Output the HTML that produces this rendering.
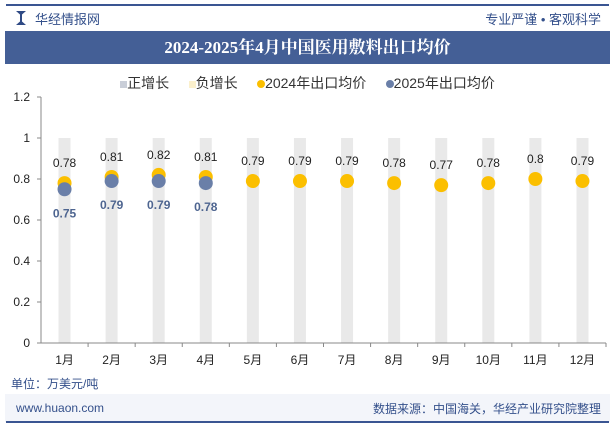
<!DOCTYPE html>
<html><head><meta charset="utf-8"><style>
body{margin:0;width:615px;height:427px;background:#fff;font-family:"Liberation Sans","Noto Sans CJK SC",sans-serif;overflow:hidden;position:relative}
.abs{position:absolute}
</style></head><body>
<div class="abs" style="left:6px;top:4px;width:603px;height:2px;background:#3a5592"></div>
<div class="abs" style="left:16px;top:11px;width:10px;height:14px;background:#2f4a85;clip-path:polygon(0 0,40% 25%,40% 75%,0 100%,100% 100%,60% 75%,60% 25%,100% 0)"></div>
<div class="abs" style="left:35px;top:9px;font-size:13px;color:#34508b">华经情报网</div>
<div class="abs" style="right:14px;top:9px;font-size:13px;color:#34508b">专业严谨 • 客观科学</div>
<div class="abs" style="left:5px;top:31px;height:33px;background:#445f96;width:605px"></div>
<div class="abs" style="left:5px;top:31px;width:605px;height:33px;line-height:33px;text-align:center;color:#fff;font-weight:bold;font-size:17px;font-family:'Liberation Serif','Noto Serif CJK SC',serif">2024-2025年4月中国医用敷料出口均价</div>
<div class="abs" style="left:0;top:73px;width:615px;text-align:center;font-size:14px;color:#333;word-spacing:0">
<span><span style="display:inline-block;width:7px;height:7px;background:#c9ced8"></span>正增长</span>&nbsp;&nbsp;&nbsp;&nbsp;
<span><span style="display:inline-block;width:7px;height:7px;background:#fbf0cc"></span>负增长</span>&nbsp;&nbsp;&nbsp;&nbsp;
<span><span style="display:inline-block;width:8px;height:8px;border-radius:50%;background:#fbbf00"></span>2024年出口均价</span>&nbsp;&nbsp;&nbsp;&nbsp;
<span><span style="display:inline-block;width:8px;height:8px;border-radius:50%;background:#6a7fa8"></span>2025年出口均价</span>
</div>
<svg class="abs" style="left:0;top:0" width="615" height="427" id="chart"></svg>
<div class="abs" style="left:11px;top:375px;font-size:12px;color:#34508b">单位：万美元/吨</div>
<div class="abs" style="left:5px;top:394px;width:605px;height:28px;background:#f3f5fa"></div>
<div class="abs" style="left:6px;top:421px;width:603px;height:2px;background:#3a5592"></div>
<div class="abs" style="left:16px;top:401px;font-size:12px;color:#34508b">www.huaon.com</div>
<div class="abs" style="right:14px;top:400px;font-size:12px;color:#34508b">数据来源：中国海关，华经产业研究院整理</div>
<script>
const categories=["1月","2月","3月","4月","5月","6月","7月","8月","9月","10月","11月","12月"];
const values2024=[0.78,0.81,0.82,0.81,0.79,0.79,0.79,0.78,0.77,0.78,0.8,0.79];
const values2025=[0.75,0.79,0.79,0.78];
const yTicks=[0,0.2,0.4,0.6,0.8,1,1.2];
const barValue=1;
const svg=document.getElementById('chart');const NS='http://www.w3.org/2000/svg';
const x0=41,x1=606,yb=343,yt=97;
const y=v=>yb-(v/1.2)*(yb-yt);
const bw=(x1-x0)/categories.length;
const xc=i=>x0+bw*(i+0.5);
function mk(t,a,txt){const e=document.createElementNS(NS,t);for(const k in a)e.setAttribute(k,a[k]);if(txt!==undefined)e.textContent=txt;svg.appendChild(e);return e;}
categories.forEach((c,i)=>{
 const b=mk('rect',{x:xc(i)-6,y:y(barValue),width:12,height:yb-y(barValue),fill:'#e9e9e9'});
 
 
 const t=mk('text',{x:xc(i),y:364,'text-anchor':'middle','font-size':12,fill:'#222'},c);
 
 
 const tk=mk('line',{x1:x0+bw*(i+1),x2:x0+bw*(i+1),y1:yb,y2:yb+4,stroke:'#888'});
 
 
});
const ax=mk('line',{x1:x0,x2:x0,y1:yt,y2:yb,stroke:'#888'});


const axx=mk('line',{x1:x0,x2:x1,y1:yb,y2:yb,stroke:'#888'});


yTicks.forEach(v=>{
 const l=mk('line',{x1:x0-4,x2:x0,y1:y(v),y2:y(v),stroke:'#888'});
 
 
 const t=mk('text',{x:30,y:y(v)+4,'text-anchor':'end','font-size':12,fill:'#222'},String(v));
 
 
});
values2024.forEach((v,i)=>{
 const c=mk('circle',{cx:xc(i),cy:y(v),r:7,fill:'#fbbf00'});
 
 
 const t=mk('text',{x:xc(i),y:y(v)-16,'text-anchor':'middle','font-size':12,fill:'#222'},String(v));
 
 
});
values2025.forEach((v,i)=>{
 const c=mk('circle',{cx:xc(i),cy:y(v),r:7,fill:'#6a7fa8'});
 
 
 const t=mk('text',{x:xc(i),y:y(v)+28,'text-anchor':'middle','font-size':12,'font-weight':'bold',fill:'#4e6590'},String(v));
 
 
});
</script>
</body></html>
